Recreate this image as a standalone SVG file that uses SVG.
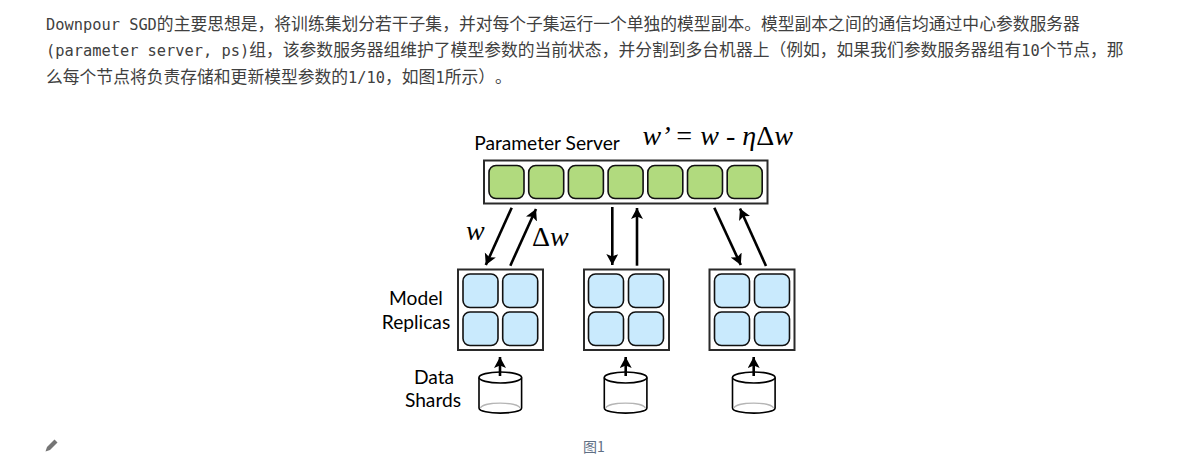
<svg xmlns="http://www.w3.org/2000/svg" width="1178" height="466" viewBox="0 0 1178 466">
<style>
.para{font-family:"Noto Sans CJK SC","Noto Sans",sans-serif;font-size:16.8px;fill:#404040;text-spacing-trim:space-all}
.m{font-family:"DejaVu Sans Mono","Liberation Mono",monospace;font-size:15.35px}
.lab{font-family:Lato,"Noto Sans",sans-serif;font-size:19.2px;fill:#000;text-anchor:middle}
.math{font-family:"Liberation Serif","Times New Roman",serif;font-style:italic;fill:#000;font-size:28px}
.up{font-style:normal}
.box{fill:#fff;stroke:#2a2a2a;stroke-width:2}
.g{fill:#b1da7e;stroke:#111;stroke-width:1.6}
.b{fill:#c9eafd;stroke:#111;stroke-width:1.6}
.ar{fill:none;stroke:#000;stroke-width:2.6;marker-end:url(#ah)}
.cyl{fill:#fff;stroke:#000;stroke-width:1.6}
.arc{fill:none;stroke:#b5b5b5;stroke-width:1.4}
</style>
<defs>
<marker id="ah" markerUnits="userSpaceOnUse" markerWidth="14" markerHeight="14" refX="11" refY="6" orient="auto"><path d="M0,0 L11,6 L0,12 L2.5,6 Z" fill="#000"/></marker>
<symbol id="cylinder" overflow="visible">
<path class="cyl" d="M0,5.500 V36 C0,42.800 42.600,42.800 42.600,36 V5.500"/>
<ellipse class="cyl" cx="21.300" cy="5.500" rx="21.300" ry="5.500"/>
<path class="arc" d="M1.500,36 C4,29.500 38.600,29.500 41,36"/>
</symbol>
</defs>
<rect width="1178" height="466" fill="#fff"/>
<g id="paragraph">
<text class="para" x="46" y="30"><tspan class="m">Downpour SGD</tspan>的主要思想是，将训练集划分若干子集，并对每个子集运行一个单独的模型副本。模型副本之间的通信均通过中心参数服务器</text>
<text class="para" x="46" y="56"><tspan class="m">(parameter server, ps)</tspan>组，该参数服务器组维护了模型参数的当前状态，并分割到多台机器上（例如，如果我们参数服务器组有<tspan class="m">10</tspan>个节点，那</text>
<text class="para" x="46" y="83">么每个节点将负责存储和更新模型参数的<tspan class="m">1/10</tspan>，如图<tspan class="m">1</tspan>所示）。</text>
</g>
<g id="parameter-server">
<text class="lab" x="547" y="150">Parameter Server</text>
<text class="math" x="642.500" y="145">w’ = w - η<tspan class="up">Δ</tspan>w</text>
<rect class="box" x="484" y="160.500" width="283.500" height="43"/>
<rect class="g" x="489" y="165.500" width="35" height="33" rx="7"/>
<rect class="g" x="528.700" y="165.500" width="35" height="33" rx="7"/>
<rect class="g" x="568.400" y="165.500" width="35" height="33" rx="7"/>
<rect class="g" x="608.100" y="165.500" width="35" height="33" rx="7"/>
<rect class="g" x="647.800" y="165.500" width="35" height="33" rx="7"/>
<rect class="g" x="687.500" y="165.500" width="35" height="33" rx="7"/>
<rect class="g" x="727.200" y="165.500" width="35" height="33" rx="7"/>
</g>
<g id="replica-1">
<text class="lab" x="416" y="305">Model</text>
<text class="lab" x="416" y="329">Replicas</text>
<rect class="box" x="458" y="269.500" width="85" height="80.500"/>
<rect class="b" x="463" y="274" width="35" height="33.500" rx="7"/>
<rect class="b" x="502.700" y="274" width="35" height="33.500" rx="7"/>
<rect class="b" x="463" y="312" width="35" height="33.500" rx="7"/>
<rect class="b" x="502.700" y="312" width="35" height="33.500" rx="7"/>
</g>
<g id="replica-2">
<rect class="box" x="584" y="269.500" width="85" height="80.500"/>
<rect class="b" x="588.500" y="274" width="35" height="33.500" rx="7"/>
<rect class="b" x="628.500" y="274" width="35" height="33.500" rx="7"/>
<rect class="b" x="588.500" y="312" width="35" height="33.500" rx="7"/>
<rect class="b" x="628.500" y="312" width="35" height="33.500" rx="7"/>
</g>
<g id="replica-3">
<rect class="box" x="709.500" y="269.500" width="85" height="80.500"/>
<rect class="b" x="714.500" y="274" width="35" height="33.500" rx="7"/>
<rect class="b" x="754.500" y="274" width="35" height="33.500" rx="7"/>
<rect class="b" x="714.500" y="312" width="35" height="33.500" rx="7"/>
<rect class="b" x="754.500" y="312" width="35" height="33.500" rx="7"/>
</g>
<g id="shard-1">
<text class="lab" x="434" y="384">Data</text>
<text class="lab" x="433" y="407">Shards</text>
<use href="#cylinder" x="479" y="372"/>
</g>
<g id="shard-2"><use href="#cylinder" x="604.300" y="372"/></g>
<g id="shard-3"><use href="#cylinder" x="732.500" y="372"/></g>
<g id="connectors">
<line class="ar" x1="511.700" y1="207.700" x2="485.800" y2="265"/>
<line class="ar" x1="510.300" y1="265.700" x2="536" y2="209"/>
<line class="ar" x1="612.300" y1="207" x2="612.300" y2="265"/>
<line class="ar" x1="637" y1="265.700" x2="637" y2="208"/>
<line class="ar" x1="714.300" y1="207.700" x2="740.800" y2="265"/>
<line class="ar" x1="766" y1="266" x2="740" y2="208.500"/>
<line class="ar" x1="500" y1="376" x2="500" y2="357"/>
<line class="ar" x1="625.700" y1="376" x2="625.700" y2="357"/>
<line class="ar" x1="753.700" y1="376" x2="753.700" y2="357"/>
</g>
<g id="edge-labels">
<text class="math" x="466" y="240">w</text>
<text class="math" x="532" y="246"><tspan class="up">Δ</tspan>w</text>
</g>
<g id="footer">
<path d="M45.500,451.500 L47,447 L54.500,439.500 L57.500,442.500 L50,450 Z" fill="#757575"/>
<text x="583" y="452" font-family="'Noto Sans CJK SC','Noto Sans',sans-serif" font-size="14" fill="#5f6f85">图1</text>
</g>
</svg>
